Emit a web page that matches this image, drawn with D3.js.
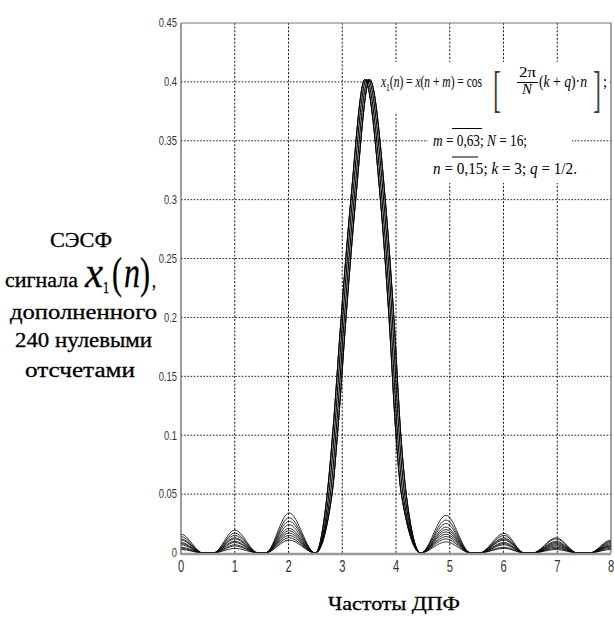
<!DOCTYPE html>
<html><head><meta charset="utf-8">
<script src="https://cdn.jsdelivr.net/npm/d3@7"></script>
<style>
html,body{margin:0;padding:0;background:#fff;}
svg{display:block;}
</style></head>
<body>
<svg id="chart" width="614" height="620"></svg>
<script>
// ---------- data ----------
const xTicks = [0,1,2,3,4,5,6,7,8];
const yTicks = [0,0.05,0.1,0.15,0.2,0.25,0.3,0.35,0.4,0.45];
const yTickLabels = ["0","0.05","0.1","0.15","0.2","0.25","0.3","0.35","0.4","0.45"];

// side-lobe geometry (DFT-bin units)
const lobeZeroLeft  = [-0.41, 0.60, 1.57, 4.46, 5.55, 6.54, 7.60];
const lobePeakX     = [0.00, 1.00, 2.01, 4.93, 6.01, 6.98, 8.00];
const lobeZeroRight = [0.41, 1.44, 2.50, 5.39, 6.39, 7.38, 8.40];
// side-lobe heights of each curve (lobes near 0,1,2,4.9,6,7,8)
const sideLobeHeights = [
  [0.003,0.004,0.011,0.0095,0.004,0.003,0.003],
  [0.004,0.006,0.013,0.012,0.005,0.004,0.004],
  [0.005,0.007,0.015,0.014,0.007,0.005,0.005],
  [0.007,0.009,0.017,0.016,0.008,0.006,0.006],
  [0.008,0.010,0.019,0.018,0.009,0.007,0.006],
  [0.009,0.012,0.021,0.020,0.011,0.008,0.007],
  [0.011,0.013,0.024,0.022,0.012,0.009,0.008],
  [0.012,0.015,0.027,0.025,0.013,0.010,0.009],
  [0.014,0.017,0.030,0.028,0.015,0.012,0.010],
  [0.016,0.0195,0.034,0.032,0.0167,0.013,0.011]
];
// main lobe: levels and x positions of each curve at those levels
const mainLobeLevels = [0.05,0.1,0.2,0.3,0.402,0.3,0.2,0.1,0.05];
const mainLobeX = [
  [2.81,2.91,3.07,3.25,3.51,3.80,3.96,4.09,4.19],
  [2.72,2.82,2.98,3.16,3.42,3.71,3.87,4.00,4.10],
  [2.78,2.88,3.04,3.22,3.48,3.77,3.93,4.06,4.16],
  [2.75,2.85,3.01,3.19,3.45,3.74,3.90,4.03,4.13],
  [2.81,2.91,3.07,3.25,3.51,3.80,3.96,4.09,4.19],
  [2.72,2.82,2.98,3.16,3.42,3.71,3.87,4.00,4.10],
  [2.78,2.88,3.04,3.22,3.48,3.77,3.93,4.06,4.16],
  [2.75,2.85,3.01,3.19,3.45,3.74,3.90,4.03,4.13],
  [2.72,2.82,2.98,3.16,3.42,3.71,3.87,4.00,4.10],
  [2.81,2.91,3.07,3.25,3.51,3.80,3.96,4.09,4.19]
];

// ---------- build curves ----------
const curves = sideLobeHeights.map((h,ci)=>{
  const pts=[];
  for(let i=0;i<3;i++){ pts.push([lobeZeroLeft[i],0],[lobePeakX[i],h[i]],[lobeZeroRight[i],0]); }
  mainLobeX[ci].forEach((x,j)=>pts.push([x,mainLobeLevels[j]]));
  for(let i=3;i<7;i++){ pts.push([lobeZeroLeft[i],0],[lobePeakX[i],h[i]],[lobeZeroRight[i],0]); }
  return pts;
});

// ---------- drawing ----------
const SERIF = "Liberation Serif, serif";
const SANS = "Liberation Sans, sans-serif";
const svg = d3.select("#chart");
const x = d3.scaleLinear().domain([0,8]).range([181,611]);
const y = d3.scaleLinear().domain([0,0.45]).range([553,23]);

svg.append("defs").append("clipPath").attr("id","plot")
  .append("rect").attr("x",181).attr("y",23).attr("width",430).attr("height",530);

// grid
const grid = svg.append("g");
grid.selectAll(".hg").data(yTicks.slice(1,-1)).join("line")
  .attr("x1",x(0)).attr("x2",x(8)).attr("y1",d=>y(d)).attr("y2",d=>y(d))
  .attr("stroke","#222").attr("stroke-width",1).attr("stroke-dasharray","1.6,1.6");
grid.selectAll(".vg").data(xTicks.slice(1,-1)).join("line")
  .attr("x1",d=>x(d)).attr("x2",d=>x(d)).attr("y1",y(0)).attr("y2",y(0.45))
  .attr("stroke","#222").attr("stroke-width",1).attr("stroke-dasharray","2.2,1.6");

// white boxes behind the formula
svg.append("rect").attr("x",372).attr("y",62).attr("width",237).attr("height",50).attr("fill","#fff");
svg.append("rect").attr("x",428).attr("y",112).attr("width",144).attr("height",40).attr("fill","#fff");
svg.append("rect").attr("x",428).attr("y",152).attr("width",162).attr("height",31).attr("fill","#fff");

// curves
const line = d3.line().x(d=>x(d[0])).y(d=>y(d[1])).curve(d3.curveMonotoneX);
svg.append("g").attr("clip-path","url(#plot)")
  .selectAll("path").data(curves).join("path")
  .attr("d",line).attr("fill","none").attr("stroke","#000")
  .attr("stroke-width",0.95).attr("stroke-opacity",0.85);

// frame
svg.append("line").attr("x1",x(0)).attr("x2",x(8)).attr("y1",y(0.45)).attr("y2",y(0.45)).attr("stroke","#777").attr("stroke-width",1.2);
svg.append("line").attr("x1",x(8)).attr("x2",x(8)).attr("y1",y(0.45)).attr("y2",y(0)).attr("stroke","#666").attr("stroke-width",1.2);
svg.append("line").attr("x1",x(0)).attr("x2",x(0)).attr("y1",y(0.45)).attr("y2",y(0)+2).attr("stroke","#666").attr("stroke-width",1.3);
svg.append("line").attr("x1",x(0)).attr("x2",x(8)).attr("y1",y(0)+1).attr("y2",y(0)+1).attr("stroke","#999").attr("stroke-width",2.5);

// tick labels
svg.append("g").selectAll("text").data(yTicks).join("text")
  .attr("font-family",SANS).attr("fill","#333").attr("font-size",12.5).attr("text-anchor","end")
  .attr("transform",d=>`translate(177,${y(d)+4.3}) scale(0.75,1)`)
  .text((d,i)=>yTickLabels[i]);
svg.append("g").selectAll("text").data(xTicks).join("text")
  .attr("font-family",SANS).attr("fill","#333").attr("font-size",16.5).attr("text-anchor","middle")
  .attr("transform",d=>`translate(${x(d)},572) scale(0.68,1)`)
  .text(d=>d);

// axis titles
const title = svg.append("g");
function t(str,xp,yp,size,len,italic){
  const e=title.append("text").attr("x",xp).attr("y",yp).attr("font-size",size)
    .attr("font-family",SERIF).attr("fill","#000").attr("stroke","#000").attr("stroke-width",0.3).text(str);
  if(len) e.attr("textLength",len).attr("lengthAdjust","spacingAndGlyphs");
  if(italic) e.attr("font-style","italic");
  return e;
}
t("СЭСФ",50,247,20,62);
t("сигнала",5,287,20,73);
t("x",85,287,44,18,true);
t("1",103,293,17,6);
t("(",112,288,44,10);
t("n",124,287,44,16,true);
t(")",140,288,44,10);
t(",",152,287,20,4);
t("дополненного",10,319,20,147);
t("240 нулевыми",15,347,20,137);
t("отсчетами",25,377,20,110);
t("Частоты ДПФ",328,610,18,132);

// formula
const f = svg.append("g");
function ft(parts,xp,yp,len,size){
  const e=f.append("text").attr("x",xp).attr("y",yp).attr("font-size",size||17)
    .attr("font-family",SERIF).attr("fill","#000");
  parts.forEach(p=>{
    const s=e.append("tspan").text(p[0]);
    if(p[1]) s.attr("font-style","italic");
    if(p[2]) s.attr("font-size",p[2]);
    if(p[3]) s.attr("dy",p[3]);
  });
  if(len) e.attr("textLength",len).attr("lengthAdjust","spacingAndGlyphs");
  return e;
}
ft([["x",1],["1",0,11,4],["(",0,null,-4],["n",1],[") = "],["x",1],["("],["n",1],[" + "],["m",1],[") = cos"]],381,87,101);
f.append("text").attr("x",493).attr("y",106).attr("font-size",50).attr("font-family",SERIF)
  .attr("textLength",8).attr("lengthAdjust","spacingAndGlyphs").attr("fill","#444").text("[");
ft([["2π"]],519,77,17,14);
f.append("line").attr("x1",517).attr("x2",538).attr("y1",82.5).attr("y2",82.5).attr("stroke","#000").attr("stroke-width",1);
ft([["N",1]],522,94,10,14);
ft([["("],["k",1],[" + "],["q",1],[")·"],["n",1]],539,87,48);
f.append("text").attr("x",593).attr("y",106).attr("font-size",50).attr("font-family",SERIF)
  .attr("textLength",8).attr("lengthAdjust","spacingAndGlyphs").attr("fill","#444").text("]");
ft([[";"]],603,87,4);
ft([["m",1],[" = 0,63; "],["N",1],[" = 16;"]],433,146,94);
f.append("line").attr("x1",452).attr("x2",482).attr("y1",128.5).attr("y2",128.5).attr("stroke","#000").attr("stroke-width",1);
ft([["n",1],[" = 0,15; "],["k",1],[" = 3; "],["q",1],[" = 1/2."]],433,174,144);
f.append("line").attr("x1",452).attr("x2",478).attr("y1",157).attr("y2",157).attr("stroke","#000").attr("stroke-width",1);
</script>
</body></html>
